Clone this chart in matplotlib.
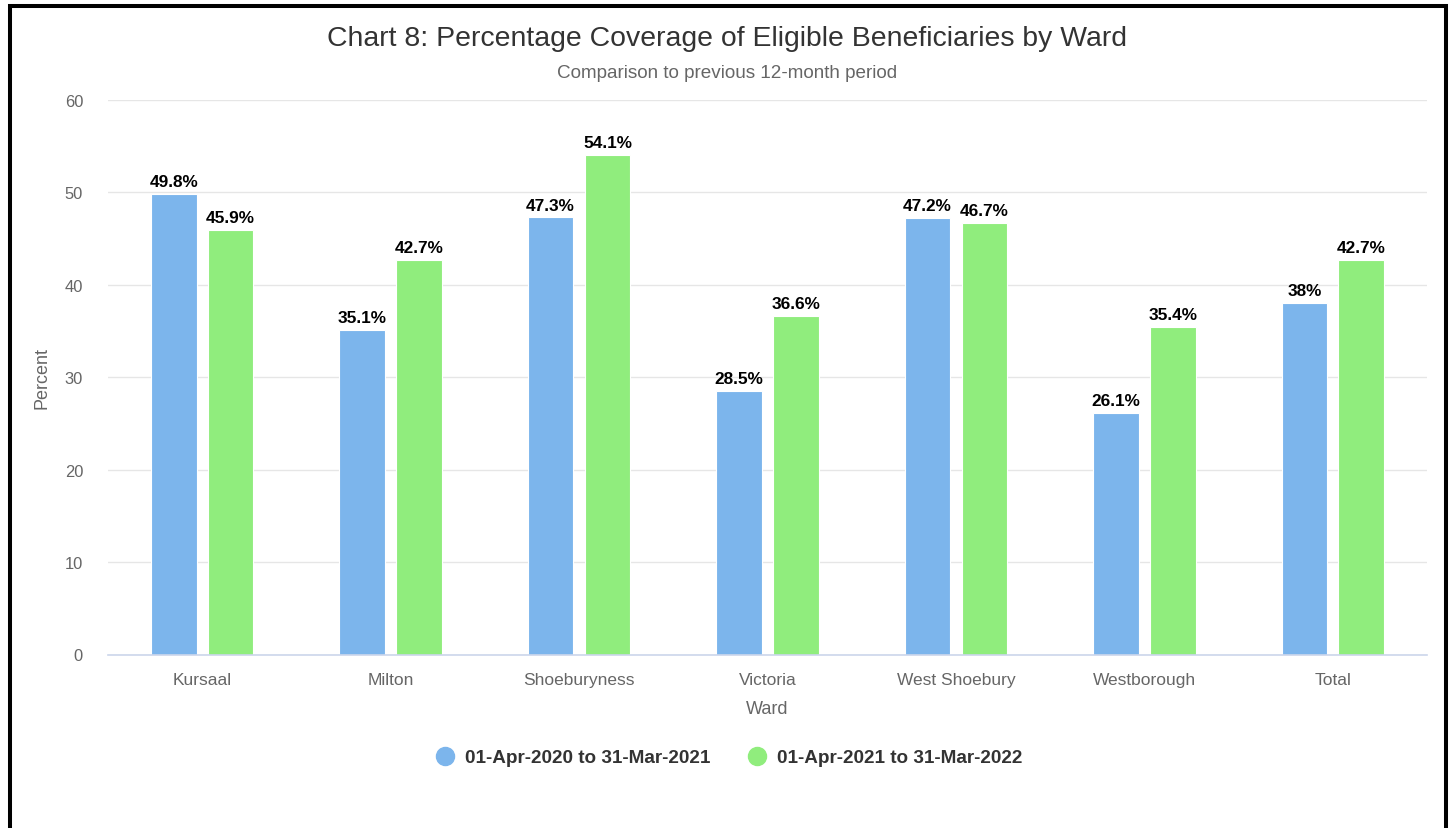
import matplotlib
matplotlib.use("Agg")
import matplotlib.pyplot as plt
from matplotlib.lines import Line2D
import numpy as np

wards = ["Kursaal", "Milton", "Shoeburyness", "Victoria", "West Shoebury", "Westborough", "Total"]
period_2020 = [49.8, 35.1, 47.3, 28.5, 47.2, 26.1, 38.0]
period_2021 = [45.9, 42.7, 54.1, 36.6, 46.7, 35.4, 42.7]
label_2020 = ["49.8%", "35.1%", "47.3%", "28.5%", "47.2%", "26.1%", "38%"]
label_2021 = ["45.9%", "42.7%", "54.1%", "36.6%", "46.7%", "35.4%", "42.7%"]
series_names = ["01-Apr-2020 to 31-Mar-2021", "01-Apr-2021 to 31-Mar-2022"]
yticks = [0, 10, 20, 30, 40, 50, 60]

BLUE = "#7cb5ec"
GREEN = "#90ed7d"

plt.rcParams["font.family"] = ["Liberation Sans", "DejaVu Sans"]

W, H = 1451, 829
fig = plt.figure(figsize=(W / 100, H / 100), dpi=100)
fig.patch.set_facecolor("white")

def fx(px):
    return px / W

def fy(py):
    return 1 - py / H

# plot area
left, right, top, bottom = 108, 1427, 101, 655.5
ax = fig.add_axes([fx(left), fy(bottom), fx(right - left), (bottom - top) / H])

x = np.arange(len(wards))
bw = 0.242
off = 0.151
b1 = ax.bar(x - off, period_2020, width=bw, color=BLUE, edgecolor="white",
            linewidth=0.8, zorder=3)
b2 = ax.bar(x + off, period_2021, width=bw, color=GREEN, edgecolor="white",
            linewidth=0.8, zorder=3)

for bars, labels in ((b1, label_2020), (b2, label_2021)):
    for rect, lab in zip(bars, labels):
        ax.annotate(lab, (rect.get_x() + rect.get_width() / 2, rect.get_height()),
                    xytext=(0, 3.5), textcoords="offset points", ha="center", va="bottom",
                    fontsize=12.4, fontweight="bold", color="black", zorder=4)

ax.set_xlim(-0.5, len(wards) - 0.5)
ax.set_ylim(0, 60)
ax.set_yticks(yticks)
ax.set_yticklabels([str(t) for t in yticks])
ax.set_xticks(x)
ax.set_xticklabels(wards)
ax.tick_params(axis="both", length=0, labelcolor="#666666")
ax.tick_params(axis="y", pad=18, labelsize=11.9)
ax.tick_params(axis="x", pad=12.5, labelsize=12.5)

ax.grid(axis="y", color="#e6e6e6", linewidth=1, zorder=0)
for s in ("top", "right", "left"):
    ax.spines[s].set_visible(False)
ax.spines["bottom"].set_color("#ccd6eb")
ax.spines["bottom"].set_linewidth(1.2)
ax.spines["bottom"].set_zorder(4)

ax.set_xlabel("Ward", fontsize=13, color="#666666", labelpad=9.5)
fig.text(fx(42), fy(378), "Percent", rotation=90, ha="center", va="center",
         fontsize=13, color="#666666")

# titles
fig.text(fx(727), fy(38.5), "Chart 8: Percentage Coverage of Eligible Beneficiaries by Ward",
         ha="center", va="center", fontsize=20.4, color="#333333")
fig.text(fx(727), fy(73.5), "Comparison to previous 12-month period",
         ha="center", va="center", fontsize=13.6, color="#666666")

# legend
for mx, tx, col, name in ((445, 465, BLUE, series_names[0]), (757, 777, GREEN, series_names[1])):
    fig.add_artist(Line2D([fx(mx)], [fy(757)], marker="o", markersize=13, color=col,
                          linestyle="none", transform=fig.transFigure))
    fig.text(fx(tx), fy(758.5), name, ha="left", va="center", fontsize=13.6,
             fontweight="bold", color="#333333")

# outer frame (open at the bottom edge)
fig.add_artist(Line2D([fx(10), fx(10), fx(1445.5), fx(1445.5)],
                      [fy(H + 5), fy(6.5), fy(6.5), fy(H + 5)],
                      color="black", linewidth=2.9, transform=fig.transFigure,
                      solid_joinstyle="miter"))

fig.savefig("out.png", dpi=100, facecolor="white")
